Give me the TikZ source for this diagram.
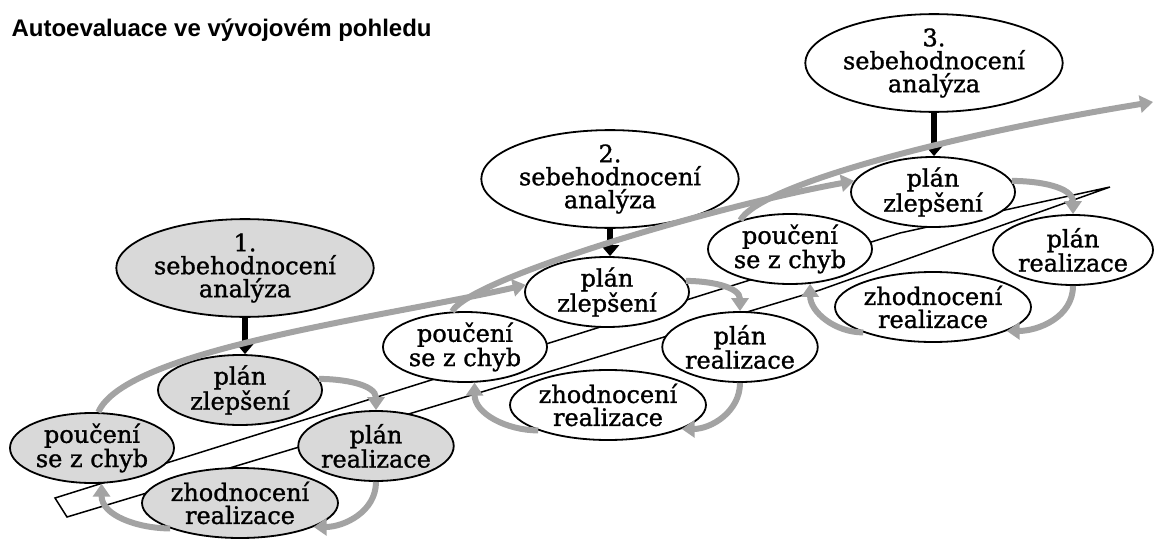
\documentclass[tikz,border=0pt]{standalone}
\usepackage{fontspec}
\setmainfont{DejaVu Serif}
\newfontfamily\nodefont{DejaVu Serif}[FakeBold=1.2]
\newfontfamily\titlefont{Liberation Sans}
\usetikzlibrary{shapes.geometric, arrows.meta}

\begin{document}
\begin{tikzpicture}[x=1pt, y=1pt, eval node/.style={ellipse, draw, line width=1.8pt, inner sep=0pt, minimum width=248pt, minimum height=96pt, align=center, font=\nodefont\fontsize{24}{23}\selectfont}, step node/.style={ellipse, draw, line width=1.8pt, inner sep=0pt, minimum width=164pt, minimum height=70pt, align=center, font=\nodefont\fontsize{24}{23}\selectfont}, grey fill/.style={fill=black!15}, white fill/.style={fill=white}, cycle arrow/.style={draw=black!36, line width=6pt, -{Triangle[length=13pt,width=17pt]}}, down arrow/.style={draw=black, line width=6pt, -{Triangle[length=11pt,width=18pt]}}]
      \useasboundingbox (0,0) rectangle (1154,-543);
      \node[anchor=base west, font=\titlefont\bfseries\fontsize{24}{24}\selectfont] (title) at (8,-37) {Autoevaluace ve vývojovém pohledu};
      \draw[line width=1.5pt, fill=white] (55,-498) -- (67,-517) -- (820,-290) -- (1110,-187) -- (900,-233) -- cycle;
      \node[eval node, grey fill] (sb1) at (245,-268) {1.\\sebehodnocení\\analýza};
      \node[step node, grey fill] (pz1) at (240,-390) {plán\\zlepšení};
      \node[step node, grey fill] (pc1) at (92,-448) {poučení\\se z chyb};
      \node[step node, grey fill, minimum width=148pt] (pr1) at (376,-446) {plán\\realizace};
      \node[step node, grey fill] (zh1) at (240,-503) {zhodnocení\\realizace};
      \node[eval node, white fill] (sb2) at (610,-179) {2.\\sebehodnocení\\analýza};
      \node[step node, white fill] (pz2) at (607,-292) {plán\\zlepšení};
      \node[step node, white fill] (pc2) at (465,-347) {poučení\\se z chyb};
      \node[step node, white fill, minimum width=146pt] (pr2) at (740,-347) {plán\\realizace};
      \node[step node, white fill] (zh2) at (608,-405) {zhodnocení\\realizace};
      \node[eval node, white fill] (sb3) at (934,-63) {3.\\sebehodnocení\\analýza};
      \node[step node, white fill] (pz3) at (933,-192) {plán\\zlepšení};
      \node[step node, white fill] (pc3) at (790,-249) {poučení\\se z chyb};
      \node[step node, white fill, minimum width=160pt] (pr3) at (1073,-250) {plán\\realizace};
      \node[step node, white fill] (zh3) at (933,-307) {zhodnocení\\realizace};
      \coordinate (exit) at (1153,-102);
      \draw[down arrow] (sb1.south) -- (sb1.south |- pz1.north);
      \draw[down arrow] (sb2.south) -- (sb2.south |- pz2.north);
      \draw[down arrow] (sb3.south) -- (sb3.south |- pz3.north);
      \draw[cycle arrow] (pz1.8) to[out=0, in=90] (pr1.north);
      \draw[cycle arrow] (pr1.south) to[out=-90, in=0] (zh1.-18);
      \draw[cycle arrow] (zh1.200) to[out=180, in=-90] (pc1.-75);
      \draw[cycle arrow] (pz2.8) to[out=0, in=90] (pr2.north);
      \draw[cycle arrow] (pr2.south) to[out=-90, in=0] (zh2.-18);
      \draw[cycle arrow] (zh2.200) to[out=180, in=-90] (pc2.-75);
      \draw[cycle arrow] (pz3.8) to[out=0, in=90] (pr3.north);
      \draw[cycle arrow] (pr3.south) to[out=-90, in=0] (zh3.-18);
      \draw[cycle arrow] (zh3.200) to[out=180, in=-90] (pc3.-60);
      \draw[cycle arrow] (pc1.80) .. controls (125,-350) and (380,-318) .. (pz2.175);
      \draw[cycle arrow] (pc2.110) .. controls (470,-278) and (720,-205) .. (pz3.172);
      \draw[cycle arrow] (pc3.150) .. controls (760,-185) and (950,-135) .. (exit);
    \end{tikzpicture}
\end{document}
